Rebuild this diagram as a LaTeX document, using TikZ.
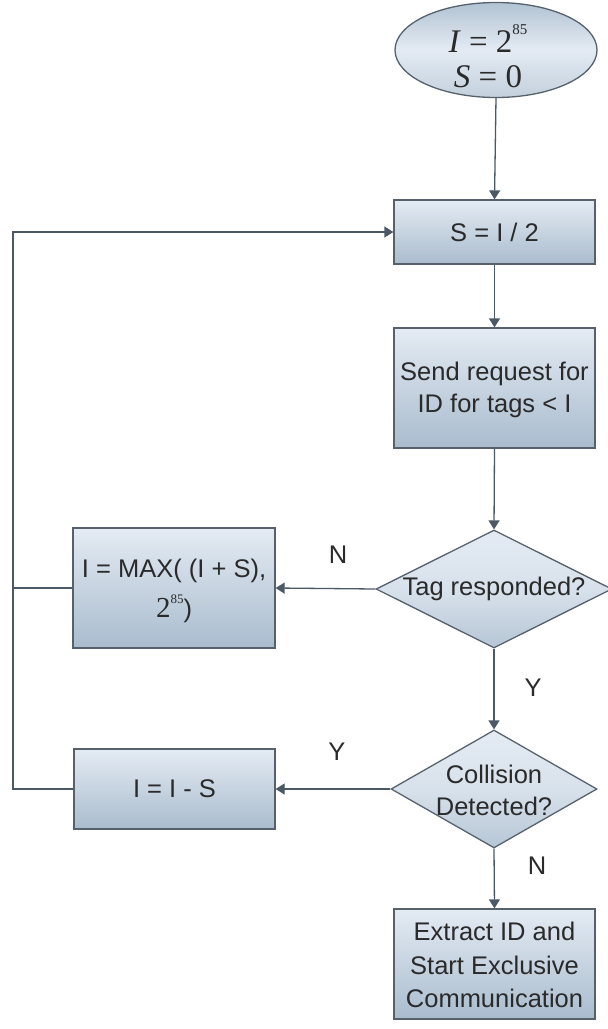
\documentclass[tikz,border=0pt]{standalone}
\usepackage{fontspec}
\setmainfont{Liberation Sans}
\newfontfamily\timesfont{Liberation Serif}
\usetikzlibrary{shapes.geometric,arrows.meta}

\definecolor{edgegray}{HTML}{56616C}
\definecolor{linegray}{HTML}{4B5865}
\definecolor{fillTop}{HTML}{E4EBF3}
\definecolor{fillBot}{HTML}{A9BCCE}
\definecolor{textgray}{HTML}{2A2A2A}

\tikzset{
  procbox/.style={draw=edgegray, line width=1.3pt, rectangle, inner sep=0pt,
    top color=fillTop, bottom color=fillBot},
  decision/.style={draw=edgegray, line width=1.3pt, diamond, inner sep=0pt,
    top color=fillTop, bottom color=fillBot!85!white, middle color=fillTop!80!fillBot},
  startnode/.style={draw=edgegray, line width=1.3pt, ellipse, inner sep=0pt,
    top color=fillBot!90!white, bottom color=fillBot!70!white, middle color=fillTop},
  label/.style={text=textgray, align=center, inner sep=0pt,
    font=\fontsize{25.5}{32}\selectfont},
  flow/.style={draw=linegray, line width=1.3pt,
    -{Triangle[length=9pt,width=11pt]}},
  plain/.style={draw=linegray, line width=1.3pt},
}

\begin{document}
\begin{tikzpicture}[x=1pt,y=1pt]
\useasboundingbox (0,0) rectangle (608,-1029);

% shapes
\node[startnode, minimum width=202pt, minimum height=95pt] (start) at (496,-50) {};
\node[procbox, minimum width=201pt, minimum height=64pt] (half) at (494.5,-232) {};
\node[procbox, minimum width=201pt, minimum height=120pt] (send) at (494.5,-388) {};
\node[decision, minimum width=236pt, minimum height=118pt] (tag) at (494,-589) {};
\node[procbox, minimum width=202pt, minimum height=120pt] (max) at (174,-588) {};
\node[decision, minimum width=206pt, minimum height=118pt] (coll) at (494,-789) {};
\node[procbox, minimum width=201pt, minimum height=80pt] (minus) at (174.5,-789) {};
\node[procbox, minimum width=201pt, minimum height=110pt] (ext) at (494.5,-964) {};

% texts
\node[text=textgray, align=center, inner sep=0pt,
  font=\timesfont\fontsize{33}{35}\selectfont] (startT) at ([xshift=-8pt,yshift=-6pt]start.center)
  {\textit{I} = 2\raisebox{0.55em}{\fontsize{15}{15}\selectfont 85}\\[0pt]\textit{S} = 0};
\node[label] (halfT) at (half.center) {S = I / 2};
\node[label] (sendT) at ([yshift=-2pt]send.center) {Send request for\\ID for tags < I};
\node[label] (tagT) at (tag.center) {Tag responded?};
\node[label, font=\fontsize{25.5}{40}\selectfont] (maxT) at ([yshift=-3pt]max.center)
  {I = MAX( (I + S),\\{\timesfont\fontsize{29}{29}\selectfont 2\raisebox{0.5em}{\fontsize{13}{13}\selectfont 85}})};
\node[label] (collT) at ([yshift=-1pt]coll.center) {Collision\\Detected?};
\node[label] (minusT) at (minus.center) {I = I - S};
\node[label, font=\fontsize{25.5}{33.5}\selectfont] (extT) at ([yshift=-1pt]ext.center)
  {Extract ID and\\Start Exclusive\\Communication};

% branch labels
\node[label] (nA) at (338,-555) {N};
\node[label] (yA) at (533,-688) {Y};
\node[label] (yB) at (337,-752) {Y};
\node[label] (nB) at (537,-866) {N};

% loop-back rail
\coordinate (railBot) at (13,-789);
\coordinate (railTop) at (13,-232);

% connectors
\draw[flow] (start.south) -- (half.north);
\draw[flow] (half.south) -- (send.north);
\draw[flow] (send.south) -- (tag.north);
\draw[flow] (tag.west) -- (max.east);
\draw[flow] (tag.south) -- (coll.north);
\draw[flow] (coll.west) -- (minus.east);
\draw[flow] (coll.south) -- (ext.north);
\draw[plain] (max.west) -- (max.west -| railBot);
\draw[flow] (minus.west) -- (railBot) -- (railTop) -- (half.west);
\end{tikzpicture}
\end{document}
